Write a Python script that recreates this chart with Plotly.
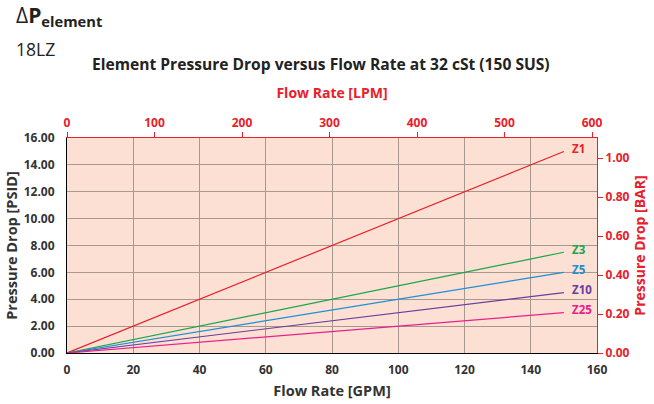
import plotly.graph_objects as go

# Flow rate in GPM and element pressure drop (PSID) at 150 GPM per media grade
flow_gpm = [0, 150]
series = {
    "Z1": [0, 15.0],
    "Z3": [0, 7.5],
    "Z5": [0, 6.0],
    "Z10": [0, 4.5],
    "Z25": [0, 3.0],
}
colors = {
    "Z1": "#E8202A",
    "Z3": "#18A54A",
    "Z5": "#1E8FD5",
    "Z10": "#6A3D9E",
    "Z25": "#E8208C",
}

GPM_MAX = 160
PSI_MAX = 16
LPM_PER_GPM = 3.78541
BAR_PER_PSI = 0.0689476

gpm_ticks = list(range(0, 161, 20))
psi_ticks = [0, 2, 4, 6, 8, 10, 12, 14, 16]
lpm_ticks = [0, 100, 200, 300, 400, 500, 600]
bar_ticks = [0, 0.2, 0.4, 0.6, 0.8, 1.0]

RED = "#E8202A"
DARK = "#333333"
FONT = "Open Sans"

fig = go.Figure()
for name, vals in series.items():
    fig.add_trace(go.Scatter(
        x=flow_gpm, y=vals, mode="lines", name=name,
        line=dict(color=colors[name], width=1.2),
        showlegend=False, hoverinfo="skip",
    ))

# secondary axes (LPM / BAR) carry an empty trace so they render
fig.add_trace(go.Scatter(x=[None], y=[None], xaxis="x2", yaxis="y2",
                         showlegend=False, hoverinfo="skip"))

for name, vals in series.items():
    fig.add_annotation(
        x=flow_gpm[-1], y=vals[-1], xref="x", yref="y",
        text=f"<b>{name}</b>", showarrow=False, xanchor="left",
        xshift=6, yshift=3,
        font=dict(family=FONT, size=11.5, color=colors[name]),
    )

fig.update_layout(
    width=654, height=404,
    margin=dict(l=67, r=57, t=138, b=51),
    paper_bgcolor="white",
    plot_bgcolor="#FCE0D3",
    font=dict(family=FONT, color=DARK),
    xaxis=dict(
        range=[0, GPM_MAX], tickvals=gpm_ticks,
        ticktext=[str(v) for v in gpm_ticks],
        tickfont=dict(family=FONT, size=12, color=DARK, weight="bold"),
        ticklabelstandoff=6, automargin=False,
        showgrid=True, gridcolor="#A8998F", gridwidth=1,
        showline=True, linecolor="black", linewidth=1,
        zeroline=False, ticks="", ticklen=0,
        title=dict(text="<b>Flow Rate [GPM]</b>", standoff=8,
                   font=dict(family=FONT, size=14.5, color=DARK)),
    ),
    yaxis=dict(
        range=[0, PSI_MAX], tickvals=psi_ticks,
        ticktext=[f"{v:.2f}" for v in psi_ticks],
        tickfont=dict(family=FONT, size=12, color=DARK, weight="bold"),
        ticklabelstandoff=9, automargin=False,
        showgrid=True, gridcolor="#A8998F", gridwidth=1,
        showline=True, linecolor="black", linewidth=1,
        zeroline=False, ticks="",
        title=dict(text="<b>Pressure Drop [PSID]</b>", standoff=2,
                   font=dict(family=FONT, size=14.5, color=DARK)),
    ),
    xaxis2=dict(
        overlaying="x", side="top", anchor="y2", automargin=False,
        range=[0, GPM_MAX * LPM_PER_GPM], tickvals=lpm_ticks,
        ticktext=[str(v) for v in lpm_ticks],
        tickfont=dict(family=FONT, size=12, color=RED, weight="bold"),
        showgrid=False, zeroline=False,
        showline=True, linecolor=RED, linewidth=1,
        ticks="outside", ticklen=5, tickcolor=RED,
        title=dict(text="<b>Flow Rate [LPM]</b>", standoff=12,
                   font=dict(family=FONT, size=14, color=RED)),
    ),
    yaxis2=dict(
        overlaying="y", side="right", anchor="x2", automargin=False,
        range=[0, PSI_MAX * BAR_PER_PSI], tickvals=bar_ticks,
        ticktext=[f"{v:.2f}" for v in bar_ticks],
        tickfont=dict(family=FONT, size=12, color=RED, weight="bold"),
        showgrid=False, zeroline=False,
        showline=True, linecolor=RED, linewidth=1,
        ticks="outside", ticklen=5, tickcolor=RED,
        title=dict(text="<b>Pressure Drop [BAR]</b>", standoff=6,
                   font=dict(family=FONT, size=14, color=RED)),
    ),
)

fig.add_annotation(
    x=321, y=64, xref="paper", yref="paper", yanchor="middle",
    text="<b>Element Pressure Drop versus Flow Rate at 32 cSt (150 SUS)</b>",
    showarrow=False, font=dict(family=FONT, size=15.6, color="#222222"),
)
fig.add_annotation(
    x=14, y=16, xref="paper", yref="paper", xanchor="left", yanchor="middle",
    text="Δ<b>P</b><b><sub>element</sub></b>", showarrow=False,
    font=dict(family=FONT, size=21, color="#222222"),
)
fig.add_annotation(
    x=14, y=49, xref="paper", yref="paper", xanchor="left", yanchor="middle",
    text="18LZ", showarrow=False,
    font=dict(family=FONT, size=17.5, color="#222222"),
)

# convert pixel-positioned header annotations to paper coordinates
plot_w = 654 - 67 - 57
plot_h = 404 - 138 - 51
for ann in fig.layout.annotations:
    if ann.xref == "paper" and ann.yref == "paper" and ann.y > 1.5:
        ann.y = 1 + (138 - ann.y) / plot_h
        if ann.x > 1.5:
            ann.x = (ann.x - 67) / plot_w

fig.write_html("out.html")
